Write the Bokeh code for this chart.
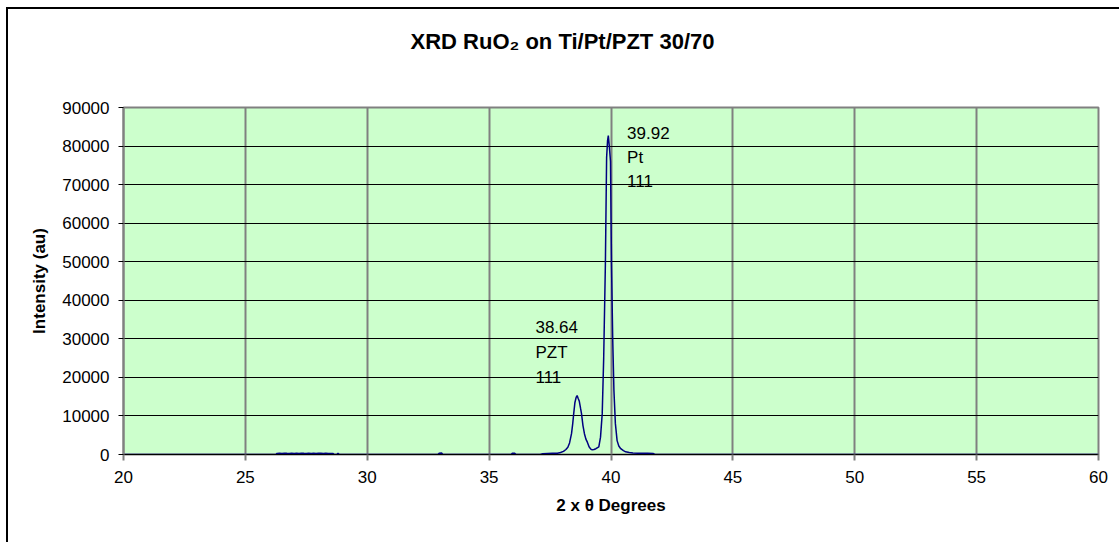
from bokeh.plotting import figure
from bokeh.models import (Range1d, SingleIntervalTicker, NumeralTickFormatter,
                          Label, Title)
from bokeh.embed import file_html
from bokeh.resources import INLINE

# ---- data ----
two_theta = [20.0, 26.25, 26.3, 26.4, 26.5, 26.6, 26.7, 26.8, 26.9, 27.0, 27.1, 27.2,
             27.3, 27.4, 27.5, 27.6, 27.7, 27.8, 27.9, 28.0, 28.1, 28.2, 28.3, 28.4,
             28.5, 28.6, 28.65, 28.75, 28.8, 28.85, 32.9, 32.95, 33.05, 33.1,
             35.9, 35.95, 36.05, 36.1, 37.1,
             37.2, 37.4, 37.6, 37.8, 37.93, 38.05, 38.15, 38.23, 38.3, 38.38, 38.43,
             38.47, 38.52, 38.57, 38.61, 38.65, 38.7, 38.75, 38.79, 38.85, 38.91,
             38.97, 39.03, 39.1, 39.17, 39.23, 39.3, 39.38, 39.45, 39.5, 39.57,
             39.64, 39.7, 39.77, 39.82, 39.86, 39.89, 39.93, 39.98, 40.02, 40.07,
             40.12, 40.18, 40.25, 40.32, 40.4, 40.51, 40.6, 40.75, 40.9, 41.1,
             41.3, 41.5, 41.74, 41.8, 60.0]
intensity = [0, 0, 280, 320, 260, 340, 300, 270, 350, 290, 310, 260,
             330, 300, 280, 340, 290, 310, 270, 320, 300, 260, 330, 290,
             270, 250, 0, 0, 350, 0, 0, 350, 380, 0,
             0, 300, 320, 0, 0,
             200, 250, 300, 350, 500, 800, 1300, 1900, 3000, 5400, 8000,
             10600, 13500, 14800, 15300, 14600, 13800, 12000, 10600, 7500, 5400,
             4000, 3200, 2000, 1400, 1200, 1300, 1500, 1800, 2000, 4500,
             10600, 25000, 49500, 77000, 81500, 82700, 80000, 76000, 49500, 30000,
             16600, 8000, 3600, 2200, 1500, 1000, 700, 500, 400, 350,
             300, 300, 250, 0, 0]

peak_labels = [("39.92", "Pt", "111"), ("38.64", "PZT", "111")]
peak_label_x = [40.66, 36.90]
peak_label_y = [[83500, 77000, 70900], [33070, 26530, 20050]]

title_text = "XRD RuO\u2082 on Ti/Pt/PZT 30/70"
x_label = "2 x \u03b8 Degrees"
y_label = "Intensity (au)"

FONT = "Liberation Sans"

p = figure(width=1119, height=542, output_backend="svg", toolbar_location=None,
           x_range=Range1d(20, 60), y_range=Range1d(0, 90000),
           min_border_left=123, min_border_right=21, min_border_top=107,
           min_border_bottom=88)

# outer chart-area border (left and top edges visible in the window)
p.border_fill_color = None
p.styles = {"box-shadow": "inset 6px 7px 0 0 white, inset 8px 9px 0 0 black",
            "background-color": "white"}

p.background_fill_color = "#CCFFCC"
p.outline_line_color = "#808080"
p.outline_line_width = 2

# title (a thin spacer panel sits between the title and the plot area)
p.title.text = title_text
p.title.align = "left"
p.title.offset = 287
p.title.standoff = 0
p.title.text_font = FONT
p.title.text_font_size = "22px"
p.title.text_font_style = "bold"
p.title.text_color = "black"
spacer = Title(text=" ", text_font_size="1px", standoff=51)
p.add_layout(spacer, "above")

# grids
p.xaxis.ticker = SingleIntervalTicker(interval=5)
p.yaxis.ticker = SingleIntervalTicker(interval=10000)
p.xgrid.grid_line_color = "#808080"
p.xgrid.grid_line_width = 2
p.ygrid.grid_line_color = "#000000"
p.ygrid.grid_line_width = 1

# axes
p.yaxis.formatter = NumeralTickFormatter(format="0")
for ax in (p.xaxis, p.yaxis):
    ax.major_label_text_font = FONT
    ax.major_label_text_font_size = "17px"
    ax.major_label_text_color = "black"
    ax.axis_label_text_font = FONT
    ax.axis_label_text_font_size = "17px"
    ax.axis_label_text_font_style = "bold"
    ax.axis_label_text_color = "black"
    ax.minor_tick_line_color = None
    ax.major_tick_in = 0
p.xaxis.axis_line_color = "black"
p.xaxis.major_tick_line_color = "#808080"
p.xaxis.major_tick_line_width = 2
p.xaxis.major_tick_out = 6
p.xaxis.major_label_standoff = 10
p.xaxis.axis_label_standoff = 10
p.yaxis.axis_line_color = "#808080"
p.yaxis.axis_line_width = 2
p.yaxis.major_tick_line_color = "black"
p.yaxis.major_tick_out = 5
p.yaxis.major_label_standoff = 9
p.yaxis.axis_label_standoff = 10
p.xaxis.axis_label = x_label
p.yaxis.axis_label = y_label

# data line
p.line(two_theta, intensity, line_color="#000080", line_width=1.5)

# peak annotations
for lines, lx, lys in zip(peak_labels, peak_label_x, peak_label_y):
    for txt, ly in zip(lines, lys):
        p.add_layout(Label(x=lx, y=ly, text=txt, text_font=FONT,
                           text_font_size="17px", text_color="black",
                           text_baseline="middle", text_align="left"))

open("out.html", "w").write(file_html(p, INLINE))
